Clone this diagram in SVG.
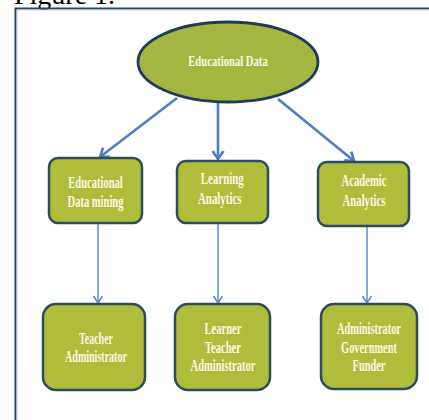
<svg xmlns="http://www.w3.org/2000/svg" width="429" height="420" viewBox="0 0 429 420">
<defs>
<style>
.node{fill:#afbd3b;stroke:#2e4a5f;stroke-width:2.5}
.lbl{font-family:"Liberation Serif","Times New Roman",serif;font-weight:bold;font-size:17px;fill:#fdf9e4;text-anchor:middle}
.ttl{font-family:"Liberation Serif","Times New Roman",serif;font-size:28px;fill:#000}
.thick{stroke:#4f7ec0;stroke-width:2.6;fill:none}
.thin{stroke:#5583c2;stroke-width:1.4;fill:none}
</style>
<marker id="ah1" markerUnits="userSpaceOnUse" markerWidth="14" markerHeight="14" viewBox="-10 -7 12 14" refX="0" refY="0" orient="auto">
<path d="M-8,-5.5 L0,0 L-8,5.5" fill="none" stroke="#4f7ec0" stroke-width="2.6" stroke-linejoin="miter"/>
</marker>
<marker id="ah2" markerUnits="userSpaceOnUse" markerWidth="12" markerHeight="12" viewBox="-9 -6 10 12" refX="0" refY="0" orient="auto">
<path d="M-7,-4.5 L0,0 L-7,4.5" fill="none" stroke="#5583c2" stroke-width="1.4"/>
</marker>
</defs>
<rect width="429" height="420" fill="#ffffff"/>
<text class="ttl" x="14" y="4">Figure 1.</text>
<path d="M15.5,430 L15.5,8.5 L440,8.5" fill="none" stroke="#24446a" stroke-width="2"/>
<path d="M17,430 L17,10 L440,10" fill="none" stroke="#b9cbe3" stroke-width="1"/>

<g id="connectors">
<line class="thick" x1="177" y1="98" x2="100" y2="157" marker-end="url(#ah1)"/>
<line class="thick" x1="218" y1="102" x2="218" y2="159" marker-end="url(#ah1)"/>
<line class="thick" x1="278" y1="99" x2="354" y2="161" marker-end="url(#ah1)"/>
<line class="thin" x1="98" y1="224" x2="98" y2="303" marker-end="url(#ah2)"/>
<line class="thin" x1="218" y1="224" x2="218" y2="303" marker-end="url(#ah2)"/>
<line class="thin" x1="367" y1="227" x2="367" y2="303" marker-end="url(#ah2)"/>
</g>

<g id="educational-data">
<ellipse class="node" cx="228" cy="62" rx="90" ry="40" style="fill:#a3b640;stroke:#1f3b58;stroke-width:2.8"/>
<g transform="translate(228 0) scale(0.76 1)">
<text class="lbl" x="0" y="66.5" style="font-size:14px">Educational Data</text>
</g>
</g>

<g id="edm">
<rect class="node" x="49" y="158" width="93" height="65" rx="9"/>
<g transform="translate(95.5 0) scale(0.62 1)">
<text class="lbl" x="0" y="188">Educational</text>
<text class="lbl" x="0" y="207">Data mining</text>
</g>
</g>

<g id="la">
<rect class="node" x="177" y="161" width="91" height="62" rx="9"/>
<g transform="translate(221 0) scale(0.64 1)">
<text class="lbl" x="2" y="184.5">Learning</text>
<text class="lbl" x="-2" y="204">Analytics</text>
</g>
</g>

<g id="aa">
<rect class="node" x="318" y="162" width="91" height="64" rx="9"/>
<g transform="translate(364 0) scale(0.63 1)">
<text class="lbl" x="0" y="186.5">Academic</text>
<text class="lbl" x="0" y="206">Analytics</text>
</g>
</g>

<g id="edm-users">
<rect class="node" x="43" y="304" width="102" height="86" rx="13"/>
<g transform="translate(96 0) scale(0.59 1)">
<text class="lbl" x="0" y="344">Teacher</text>
<text class="lbl" x="0" y="362.5">Administrator</text>
</g>
</g>

<g id="la-users">
<rect class="node" x="175" y="304" width="95" height="86" rx="13"/>
<g transform="translate(223 0) scale(0.62 1)">
<text class="lbl" x="0" y="334.5">Learner</text>
<text class="lbl" x="0" y="353">Teacher</text>
<text class="lbl" x="0" y="371.5">Administrator</text>
</g>
</g>

<g id="aa-users">
<rect class="node" x="321" y="304" width="96" height="85" rx="13"/>
<g transform="translate(369 0) scale(0.61 1)">
<text class="lbl" x="0" y="334.5">Administrator</text>
<text class="lbl" x="0" y="353.5">Government</text>
<text class="lbl" x="0" y="371.5">Funder</text>
</g>
</g>
</svg>
